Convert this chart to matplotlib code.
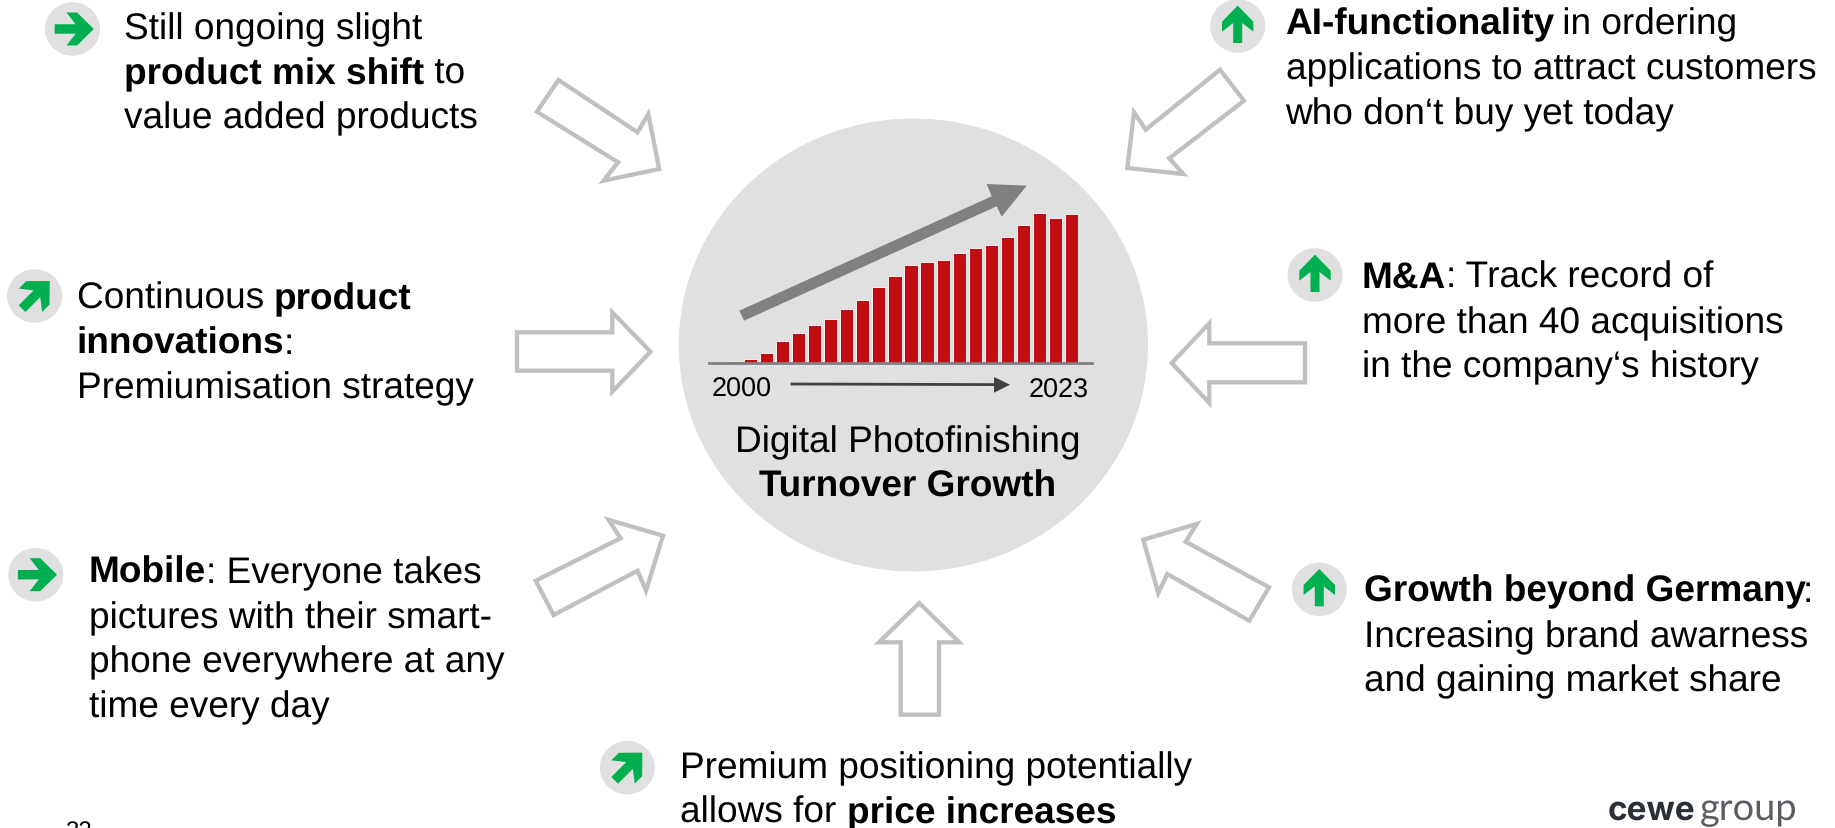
import numpy as np
import matplotlib
matplotlib.use("Agg")
import matplotlib.pyplot as plt
from matplotlib.patches import Ellipse, Polygon

plt.rcParams["text.hinting"] = "no_hinting"
plt.rcParams["text.hinting_factor"] = 1

W, H = 1835, 829
FONT = "Liberation Sans"
GREY_ICON = "#E0E0E0"
GREEN = "#00B050"
OUTLINE = "#C0C0C0"

# Bar chart values (relative turnover index)
bar_index = list(range(23))
bar_values = [1, 2, 4.3, 10.3, 22, 30.3, 38, 43.7, 53.7, 63.3, 76.3, 87,
              97.7, 101, 103.3, 110.3, 115, 118.3, 126.3, 138, 150.3, 144.7, 149.3]
year_labels = ["2000", "2023"]

# Text blocks: (x, [baselines], [[(text, bold), ...], ...])
blocks = [
    (124, [39, 84, 128.5], [[("Still ongoing slight", False)],
                            [("product mix shift", True), (" to", False)],
                            [("value added products", False)]]),
    (76.5, [309, 353.5, 398.5], [[("Continuous ", False), ("product", True)],
                                 [("innovations", True), (":", False)],
                                 [("Premiumisation strategy", False)]]),
    (89, [583, 628, 672.5, 717], [[("Mobile", True), (": Everyone takes", False)],
                                  [("pictures with their smart-", False)],
                                  [("phone everywhere at any", False)],
                                  [("time every day", False)]]),
    (680, [778, 823], [[("Premium positioning potentially", False)],
                       [("allows for ", False), ("price increases", True)]]),
    (1285.5, [34, 79.5, 124], [[("AI-functionality", True), (" in ordering", False)],
                               [("applications to attract customers", False)],
                               [("who don‘t buy yet today", False)]]),
    (1362, [288, 333.5, 377.5], [[("M&A", True), (": Track record of", False)],
                                 [("more than 40 acquisitions", False)],
                                 [("in the company‘s history", False)]]),
    (1363.5, [601.5, 647, 691.5], [[("Growth beyond Germany", True), (":", False)],
                                   [("Increasing brand awarness", False)],
                                   [("and gaining market share", False)]]),
]

# Status icons: (cx, cy, rotation of the arrow in degrees clockwise from up, arrow scale)
icons = [(72.5, 30, 90, 1.05), (34.7, 297, 45, 1.05), (35.7, 575.7, 90, 1.05), (627.3, 768.7, 45, 1.05),
         (1237.7, 27, 0, 1.0), (1315, 276, 0, 1.0), (1319.3, 590.3, 0, 1.0)]
icon_arrow = np.array([(0, -20.3), (15.7, -4.3), (15.7, 5.7), (4.5, -3), (4.5, 17),
                       (-4.5, 17), (-4.5, -3), (-15.7, 5.7), (-15.7, -4.3)])

# Outline arrows pointing at the circle
outline_arrows = [
    [(558.5, 81), (637.5, 133.3), (648.3, 115), (659.2, 170), (603.6, 181.7), (618, 163.3), (536.9, 112.7)],
    [(517, 333.3), (612.3, 333.3), (612.3, 313.3), (650.5, 352.7), (612.3, 392.7), (612.3, 371.7), (517, 371.7)],
    [(535.7, 581.7), (620.5, 539.3), (608.6, 520.8), (663, 536.7), (646, 591.7), (637.5, 571.7), (553.6, 616)],
    [(919.3, 604), (959.3, 643.3), (939, 643.3), (939, 715.7), (900.7, 715.7), (900.7, 643.3), (879, 643.3)],
    [(1220, 70.7), (1145.7, 130.7), (1134, 113.3), (1127.3, 169), (1183.3, 175), (1169.3, 159.3), (1244, 101.7)],
    [(1305, 344.3), (1209.3, 344.3), (1209.3, 324.3), (1171.7, 364), (1209.3, 404), (1209.3, 383.3), (1305, 383.3)],
    [(1269, 588.3), (1185.7, 542.7), (1196.7, 525), (1143.3, 540.7), (1158.3, 594), (1167.3, 575), (1249.3, 621.7)],
]

fig = plt.figure(figsize=(W / 100, H / 100), dpi=100, facecolor="white")
ax = fig.add_axes([0, 0, 1, 1])
ax.set_xlim(0, W)
ax.set_ylim(H, 0)
ax.axis("off")

ax.add_patch(Ellipse((913.4, 346), 469.2, 453, fc="#E0E0E0", ec="none", zorder=1))

for pts in outline_arrows:
    ax.add_patch(Polygon(pts, closed=True, fc="white", ec=OUTLINE, lw=3.1, joinstyle="miter", zorder=2))

for cx, cy, rot, sc in icons:
    ax.add_patch(Ellipse((cx, cy), 55, 53.5, fc=GREY_ICON, ec="none", zorder=2))
    a = np.deg2rad(rot)
    R = np.array([[np.cos(a), -np.sin(a)], [np.sin(a), np.cos(a)]])
    ax.add_patch(Polygon(sc * icon_arrow @ R.T + [cx, cy], closed=True, fc=GREEN, ec="none", zorder=3))

# Big grey trend arrow
ax.add_patch(Polygon([(739.3, 311.7), (991.7, 197.3), (986.7, 185), (1026.7, 186.7),
                      (1001.7, 217.7), (996.7, 207.3), (744, 321.7)],
                     closed=True, fc="#808080", ec="none", zorder=3))

# Bars
bar_ax = fig.add_axes([709 / W, 1 - 364 / H, 383 / W, 155 / H])
bar_ax.patch.set_alpha(0)
bar_ax.bar(bar_index, bar_values, width=0.82, color="#C20C14", edgecolor="white", linewidth=0.6, zorder=2)
bar_ax.set_xlim(-0.58, 23.27)
bar_ax.set_ylim(0, 155)
bar_ax.set_xticks([])
bar_ax.set_yticks([])
for s in ("top", "left", "right"):
    bar_ax.spines[s].set_visible(False)
bar_ax.spines["bottom"].set_color("#808080")
bar_ax.spines["bottom"].set_linewidth(2)
bar_ax.spines["bottom"].set_zorder(5)

# Small time arrow
ax.plot([790.7, 996], [385, 385.6], color="#404040", lw=2, solid_capstyle="butt", zorder=4)
ax.add_patch(Polygon([(1010, 385.7), (994, 378), (994, 393.7)], closed=True, fc="#404040", ec="none", zorder=4))

ax.text(712, 397, year_labels[0], fontsize=19.4, family=FONT, va="baseline", ha="left", color="black", zorder=5)
ax.text(1029, 398, year_labels[1], fontsize=19.4, family=FONT, va="baseline", ha="left", color="black", zorder=5)

FS = 26.9
fig.canvas.draw()
rend = fig.canvas.get_renderer()


def width(s, bold):
    w = "bold" if bold else "normal"
    t1 = ax.text(0, 0, s + ".", fontsize=FS, family=FONT, weight=w)
    t2 = ax.text(0, 0, ".", fontsize=FS, family=FONT, weight=w)
    d = t1.get_window_extent(rend).width - t2.get_window_extent(rend).width
    t1.remove()
    t2.remove()
    return d


for x0, ys, lines in blocks:
    for y, runs in zip(ys, lines):
        x = x0
        for s, bold in runs:
            ax.text(x, y, s, fontsize=FS, family=FONT, weight="bold" if bold else "normal",
                    va="baseline", ha="left", color="black", zorder=5)
            x += width(s, bold)

ax.text(908, 452.5, "Digital Photofinishing", fontsize=FS, family=FONT, va="baseline", ha="center", zorder=5)
ax.text(908, 497, "Turnover Growth", fontsize=FS, family=FONT, weight="bold", va="baseline", ha="center", zorder=5)

# Page number, cut off by the lower edge as in the reference
ax.text(65, 839, "32", fontsize=17.6, family=FONT, va="baseline", ha="left", clip_on=False, zorder=5)

# Logo wordmark
ax.text(1608, 820, "cewe", fontsize=24, family="Inter", weight="bold", color="#2B3036", va="baseline", ha="left", zorder=5)
ax.text(1700, 820, "group", fontsize=27.5, family="Lato", weight="normal", color="#5A5E63", va="baseline", ha="left", zorder=5)

fig.savefig("out.png", dpi=100, facecolor="white")
